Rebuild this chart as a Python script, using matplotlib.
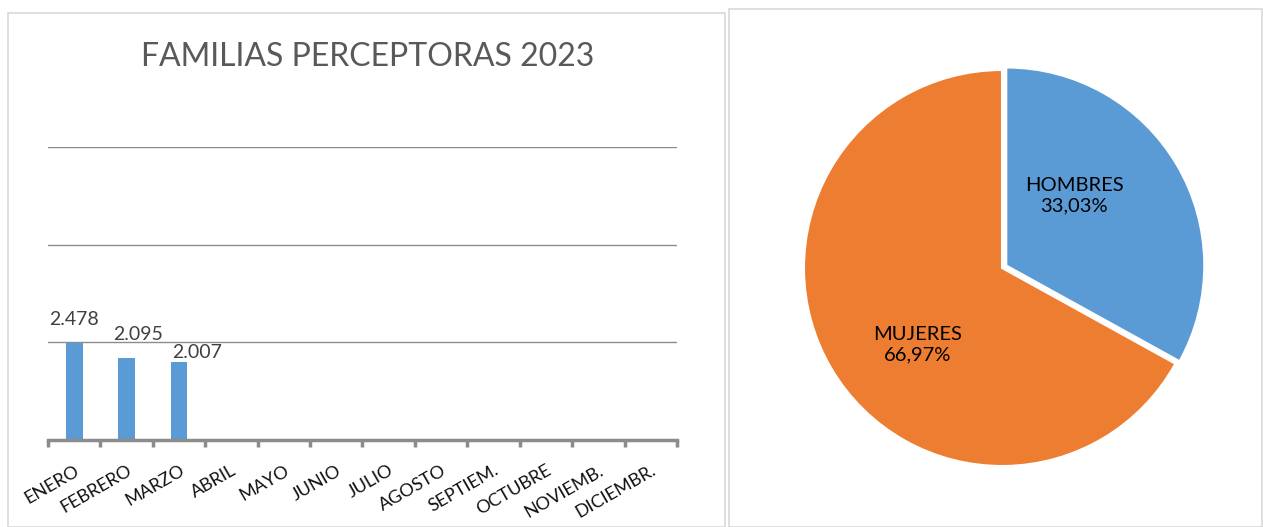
import matplotlib
matplotlib.use("Agg")
import matplotlib.pyplot as plt
from matplotlib.patches import Rectangle

plt.rcParams['font.family'] = ['Lato', 'DejaVu Sans']

months = ["ENERO", "FEBRERO", "MARZO", "ABRIL", "MAYO", "JUNIO", "JULIO",
          "AGOSTO", "SEPTIEM.", "OCTUBRE", "NOVIEMB.", "DICIEMBR."]
values = [2478, 2095, 2007]
value_labels = ["2.478", "2.095", "2.007"]
title = "FAMILIAS PERCEPTORAS 2023"

pie_labels = ["HOMBRES", "MUJERES"]
pie_values = [33.03, 66.97]
pie_pct = ["33,03%", "66,97%"]

W, H = 1263, 527
fig = plt.figure(figsize=(W / 100, H / 100), dpi=100)
fig.patch.set_facecolor("white")

def px(x0, y0, x1, y1):
    return [x0 / W, 1 - y1 / H, (x1 - x0) / W, (y1 - y0) / H]

# panel borders
fig.add_artist(Rectangle((8 / W, 0), (725 - 8) / W, 1 - 13 / H, transform=fig.transFigure,
                         fill=False, edgecolor="#d9d9d9", linewidth=1.2))
fig.add_artist(Rectangle((729 / W, 0), (1262 - 729) / W, 1 - 9 / H, transform=fig.transFigure,
                         fill=False, edgecolor="#d9d9d9", linewidth=1.2))

# ---------- bar chart ----------
ax = fig.add_axes(px(48, 147, 677, 440))
n = len(months)
ax.bar(range(len(values)), values, width=0.32, color="#5B9BD5", zorder=3)
ax.set_xlim(-0.5, n - 0.5)
ax.set_ylim(0, 7500)
ax.set_yticks([2500, 5000, 7500])
ax.yaxis.grid(True, color="#8c8c8c", linewidth=1.0)
ax.tick_params(axis="y", length=0, labelleft=False)
for s in ["top", "right", "left"]:
    ax.spines[s].set_visible(False)
ax.spines["bottom"].set_color("#8c8c8c")
ax.spines["bottom"].set_linewidth(2.5)
ax.spines["bottom"].set_zorder(4)
ax.set_xticks(range(n))
ax.set_xticklabels(months, rotation=30, ha="right", rotation_mode="anchor",
                   fontsize=13, color="#111111")
ax.tick_params(axis="x", which="major", length=0, pad=16)
ax.set_xticks([i - 0.5 for i in range(n + 1)], minor=True)
ax.tick_params(axis="x", which="minor", length=5, width=2.5, color="#8c8c8c")
# pixel shifts of the value labels (moved in the original to avoid overlap)
label_dx = [0, 11, 18]
label_dy = [15, 15, 1]
for i, (v, lab) in enumerate(zip(values, value_labels)):
    ax.annotate(lab, (i, v), xytext=(label_dx[i] * 0.72, label_dy[i] * 0.72),
                textcoords="offset points",
                ha="center", va="bottom", fontsize=14, color="#404040", zorder=5)
fig.text(368 / W, 1 - 57 / H, title, ha="center", va="center", fontsize=23, color="#595959")

# ---------- pie chart ----------
R = 198
cx, cy = 1002, 268
pax = fig.add_axes(px(cx - R - 10, cy - R - 10, cx + R + 10, cy + R + 10))
wedges, _ = pax.pie(pie_values, colors=["#5B9BD5", "#ED7D31"], startangle=90,
                    counterclock=False, explode=[0.025, 0],
                    wedgeprops=dict(edgecolor="white", linewidth=1.5))
lim = (R + 10) / R
pax.set_xlim(-lim, lim)
pax.set_ylim(-lim, lim)
pax.set_aspect("equal")
pax.axis("off")
pax.text((1074 - cx) / R, (cy - 196) / R, pie_labels[0] + "\n" + pie_pct[0],
         ha="center", va="center", fontsize=14.5, color="#000000", linespacing=1.25)
pax.text((918 - cx) / R, (cy - 345) / R, pie_labels[1] + "\n" + pie_pct[1],
         ha="center", va="center", fontsize=14.5, color="#000000", linespacing=1.25)

fig.savefig("out.png", dpi=100, facecolor="white")
